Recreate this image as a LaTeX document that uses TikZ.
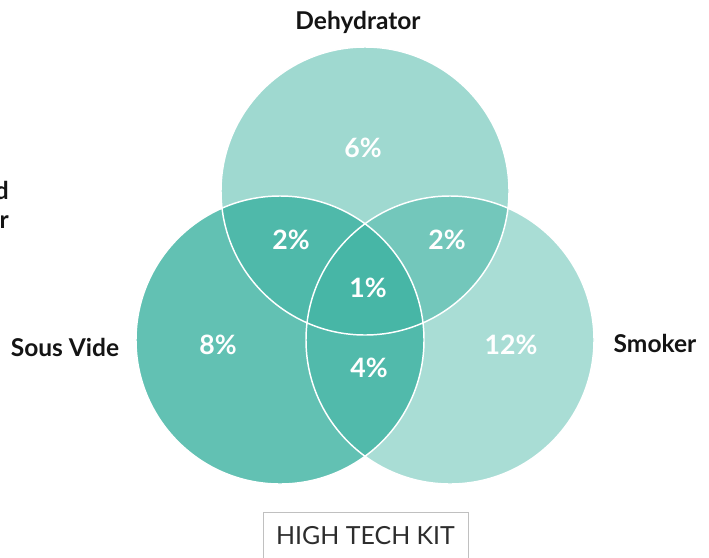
\documentclass[tikz,border=0pt]{standalone}
\usepackage{fontspec}
\setmainfont{Lato}
\usepackage{tikz}
\usetikzlibrary{positioning}
\definecolor{VennTeal}{RGB}{59,177,160}
\definecolor{LabelInk}{RGB}{20,20,20}
\definecolor{BoxGray}{RGB}{192,192,192}
\definecolor{BoxInk}{RGB}{45,45,45}

\begin{document}
\begin{tikzpicture}[x=0.75pt, y=-0.75pt,
            set/.style={fill=VennTeal},
            rim/.style={draw=white, line width=1.1pt},
            pct/.style={text=white, font=\bfseries\fontsize{20}{24}\selectfont},
            lbl/.style={text=LabelInk, font=\bfseries\fontsize{18.4}{21.75}\selectfont, inner sep=0pt}
        ]
        \useasboundingbox (0,0) rectangle (709,557);
        \clip (0,0) rectangle (709,557);

        % The circles
        \coordinate (dehy) at (365,191);
        \coordinate (sous) at (280,340);
        \coordinate (smok) at (450,340);
        \fill[set, fill opacity=0.49] (dehy) circle (108pt);
        \fill[set, fill opacity=0.80] (sous) circle (108pt);
        \fill[set, fill opacity=0.44] (smok) circle (108pt);
        \draw[rim] (dehy) circle (108pt);
        \draw[rim] (sous) circle (108pt);
        \draw[rim] (smok) circle (108pt);

        % Shares
        \node[pct] (p6) at (363,148) {6\%};
        \node[pct] (p2a) at (291,240) {2\%};
        \node[pct] (p2b) at (447,240) {2\%};
        \node[pct] (p1) at (368,288) {1\%};
        \node[pct] (p8) at (218,345) {8\%};
        \node[pct] (p4) at (369,368) {4\%};
        \node[pct] (p12) at (511,345) {12\%};

        % Labels
        \node[lbl] (ldehy) at (358,22) {Dehydrator};
        \node[lbl] (lsous) at (65,347) {Sous Vide};
        \node[lbl] (lsmok) at (655,343) {Smoker};
        \node[lbl, align=right, anchor=east] (lcut) at (9,205) {d\\er};

        \node[draw=BoxGray, line width=0.75pt, text=BoxInk, font=\fontsize{18.7}{22}\selectfont,
              minimum width=153.75pt, minimum height=35pt, anchor=north] (kit) at (365.5,512) {HIGH TECH KIT};

        \end{tikzpicture}
\end{document}
